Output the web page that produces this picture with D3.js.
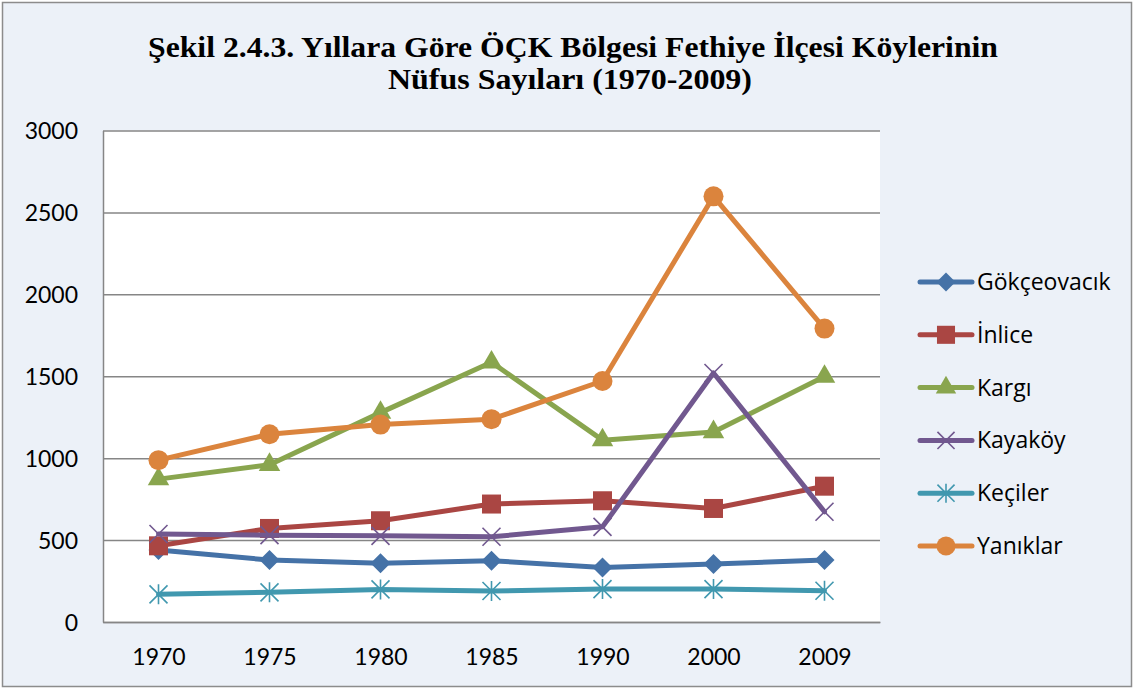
<!DOCTYPE html>
<html>
<head>
<meta charset="utf-8">
<script src="https://cdn.jsdelivr.net/npm/d3@7"></script>
<style>
  html, body { margin: 0; padding: 0; background: #fff; }
  svg { display: block; }
  .tick text { font-family: Lato, "Open Sans", sans-serif; font-size: 23px; fill: #000; }
</style>
</head>
<body>
<svg id="chart" width="1134" height="689"></svg>
<script>
// ── data ──────────────────────────────────────────────────────────────────
const years = ['1970', '1975', '1980', '1985', '1990', '2000', '2009'];
const yTicks = [0, 500, 1000, 1500, 2000, 2500, 3000];
const gokceovacik = [440, 378, 358, 374, 333, 354, 378];
const inlice      = [465, 571, 618, 720, 740, 693, 829];
const kargi       = [872, 960, 1278, 1585, 1110, 1160, 1498];
const kayakoy     = [537, 530, 526, 520, 581, 1520, 673];
const keciler     = [169, 181, 199, 189, 201, 201, 191];
const yaniklar    = [988, 1146, 1205, 1238, 1471, 2598, 1791];

const series = [
  { name: 'Gökçeovacık', values: gokceovacik, color: '#4572A7', marker: 'diamond' },
  { name: 'İnlice',      values: inlice,      color: '#AA4643', marker: 'square' },
  { name: 'Kargı',       values: kargi,       color: '#89A54E', marker: 'triangle' },
  { name: 'Kayaköy',     values: kayakoy,     color: '#71588F', marker: 'x' },
  { name: 'Keçiler',     values: keciler,     color: '#4198AF', marker: 'star' },
  { name: 'Yanıklar',    values: yaniklar,    color: '#DB843D', marker: 'circle' },
];

// ── layout ────────────────────────────────────────────────────────────────
const svg = d3.select('#chart');
const plot = { left: 103, top: 130.5, right: 880, bottom: 622 };

svg.append('rect').attr('x', 2.5).attr('y', 2.5).attr('width', 1129).attr('height', 684)
  .attr('fill', '#ECF1F8').attr('stroke', '#8C8C8C').attr('stroke-width', 1.5);

// title
const title = svg.append('text').attr('text-anchor', 'middle')
  .attr('font-family', '"Liberation Serif", "Times New Roman", serif')
  .attr('font-weight', 'bold').attr('font-size', 30).attr('fill', '#000');
title.append('tspan').attr('x', 573).attr('y', 57)
  .attr('textLength', 850).attr('lengthAdjust', 'spacingAndGlyphs')
  .text('Şekil 2.4.3. Yıllara Göre ÖÇK Bölgesi Fethiye İlçesi Köylerinin');
title.append('tspan').attr('x', 570).attr('y', 89)
  .attr('textLength', 364).attr('lengthAdjust', 'spacingAndGlyphs')
  .text('Nüfus Sayıları (1970-2009)');

// plot background
svg.append('rect').attr('x', plot.left).attr('y', plot.top)
  .attr('width', plot.right - plot.left).attr('height', plot.bottom - plot.top)
  .attr('fill', '#fff');

const x = d3.scalePoint().domain(years).range([plot.left, plot.right]).padding(0.5);
const y = d3.scaleLinear().domain([0, 3000]).range([plot.bottom, plot.top]);

// gridlines
svg.append('g').attr('transform', `translate(${plot.left},0)`)
  .call(d3.axisLeft(y).tickValues(yTicks).tickSize(-(plot.right - plot.left)).tickFormat(''))
  .call(g => g.select('.domain').remove())
  .call(g => g.selectAll('line').attr('stroke', '#868686').attr('stroke-width', 1.5));

// y axis
svg.append('g').attr('transform', `translate(${plot.left},0)`)
  .call(d3.axisLeft(y).tickValues(yTicks).tickSize(0).tickPadding(25).tickFormat(d3.format('d')))
  .call(g => g.select('.domain').attr('stroke', '#868686').attr('stroke-width', 1.5))
  .call(g => g.selectAll('text').attr('dy', '0.35em'));

// x axis
svg.append('g').attr('transform', `translate(0,${plot.bottom})`)
  .call(d3.axisBottom(x).tickSize(0).tickPadding(27))
  .call(g => g.select('.domain').attr('stroke', '#868686').attr('stroke-width', 1.5));

// ── markers ───────────────────────────────────────────────────────────────
function drawMarker(g, type, color, cx, cy, s) {
  s = s || 1;
  if (type === 'diamond') {
    const h = 10 * s;
    g.append('path').attr('d', `M${cx},${cy - h}L${cx + h},${cy}L${cx},${cy + h}L${cx - h},${cy}Z`)
      .attr('fill', color);
  } else if (type === 'square') {
    const h = 9.5 * s;
    g.append('rect').attr('x', cx - h).attr('y', cy - h).attr('width', 2 * h).attr('height', 2 * h).attr('fill', color);
  } else if (type === 'triangle') {
    g.append('path').attr('d', d3.symbol(d3.symbolTriangle, 200 * s * s)()).attr('transform', `translate(${cx},${cy})`)
      .attr('fill', color);
  } else if (type === 'circle') {
    g.append('circle').attr('cx', cx).attr('cy', cy).attr('r', 10 * s).attr('fill', color);
  } else if (type === 'x') {
    const h = 9 * s;
    g.append('path').attr('d', `M${cx - h},${cy - h}L${cx + h},${cy + h}M${cx - h},${cy + h}L${cx + h},${cy - h}`)
      .attr('stroke', color).attr('stroke-width', 1.6).attr('fill', 'none');
  } else if (type === 'star') {
    const h = 9 * s;
    g.append('path').attr('d', `M${cx - h},${cy - h}L${cx + h},${cy + h}M${cx - h},${cy + h}L${cx + h},${cy - h}M${cx},${cy - h - 1}L${cx},${cy + h + 1}`)
      .attr('stroke', color).attr('stroke-width', 1.6).attr('fill', 'none');
  }
}

const line = d3.line().x((d, i) => x(years[i])).y(d => y(d));
series.forEach(s => {
  const g = svg.append('g');
  g.append('path').datum(s.values).attr('d', line)
    .attr('fill', 'none').attr('stroke', s.color).attr('stroke-width', 5)
    .attr('stroke-linejoin', 'round').attr('stroke-linecap', 'round');
  s.values.forEach((v, i) => drawMarker(g, s.marker, s.color, x(years[i]), y(v)));
});

// ── legend ────────────────────────────────────────────────────────────────
const legend = svg.append('g');
series.forEach((s, i) => {
  const ly = 282 + i * 52.8;
  const g = legend.append('g');
  g.append('line').attr('x1', 920).attr('x2', 972).attr('y1', ly).attr('y2', ly)
    .attr('stroke', s.color).attr('stroke-width', 5).attr('stroke-linecap', 'round');
  drawMarker(g, s.marker, s.color, 946, ly, 0.95);
  g.append('text').attr('x', 977).attr('y', ly).attr('dy', '0.35em')
    .attr('font-family', '"Open Sans", Lato, sans-serif')
    .attr('font-size', 23).attr('fill', '#000').text(s.name);
});
</script>
</body>
</html>
